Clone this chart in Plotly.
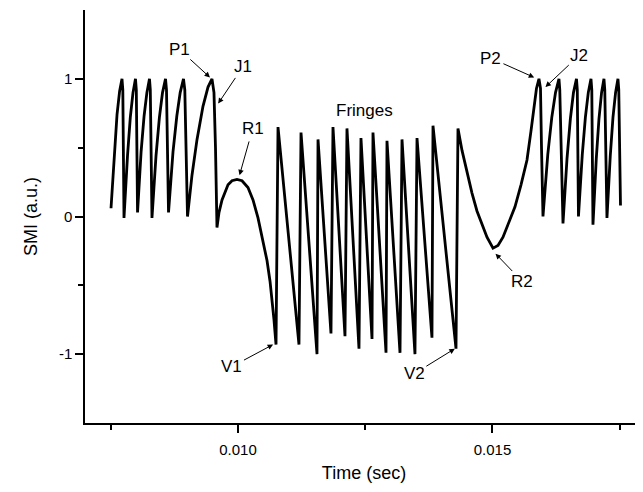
import plotly.graph_objects as go

# Time (s) and SMI (a.u.) values
time_left = [0.007505, 0.007570, 0.007623, 0.007674, 0.007721, 0.007737, 0.007760,
             0.007829, 0.007884, 0.007937, 0.007986, 0.008002, 0.008026,
             0.008096, 0.008155, 0.008210, 0.008261, 0.008277, 0.008310,
             0.008389, 0.008456, 0.008517, 0.008576, 0.008595, 0.008635,
             0.008723, 0.008798, 0.008864, 0.008929, 0.008955, 0.009008,
             0.009096, 0.009195, 0.009312, 0.009411, 0.009489, 0.009528, 0.009558, 0.009587]
smi_left = [0.06, 0.48, 0.74, 0.91, 1.00, 0.92, -0.01,
            0.44, 0.72, 0.90, 1.00, 0.92, 0.03,
            0.47, 0.73, 0.90, 1.00, 0.92, -0.01,
            0.44, 0.72, 0.90, 1.00, 0.92, 0.03,
            0.47, 0.73, 0.90, 1.00, 0.92, 0.00,
            0.30, 0.56, 0.80, 0.94, 1.00, 0.90, 0.50, -0.08]

time_r1 = [0.009627, 0.009686, 0.009804, 0.009882, 0.009980, 0.010079, 0.010196,
           0.010295, 0.010393, 0.010491, 0.010570, 0.010629, 0.010668, 0.010707, 0.010747]
smi_r1 = [0.03, 0.12, 0.23, 0.26, 0.27, 0.26, 0.21,
          0.12, -0.01, -0.18, -0.32, -0.47, -0.59, -0.75, -0.93]

time_fringes = [0.010786, 0.011198, 0.011238, 0.011552, 0.011572, 0.011827, 0.011866,
                0.012102, 0.012141, 0.012377, 0.012416, 0.012633, 0.012652, 0.012908,
                0.012927, 0.013183, 0.013222, 0.013477, 0.013517, 0.013811, 0.013831,
                0.014283, 0.014322]
smi_fringes = [0.65, -0.93, 0.61, -1.00, 0.56, -0.85, 0.65,
               -0.87, 0.64, -0.96, 0.57, -0.89, 0.61, -0.99,
               0.55, -0.99, 0.56, -1.00, 0.57, -0.88, 0.66,
               -0.96, 0.64]

time_r2 = [0.014401, 0.014499, 0.014597, 0.014695, 0.014794, 0.014892, 0.015010,
           0.015108, 0.015206, 0.015324, 0.015442, 0.015560, 0.015678, 0.015756,
           0.015815, 0.015864, 0.015913, 0.015943, 0.015963, 0.015992]
smi_r2 = [0.48, 0.32, 0.17, 0.04, -0.05, -0.15, -0.23,
          -0.21, -0.15, -0.04, 0.07, 0.23, 0.41, 0.62,
          0.80, 0.93, 1.00, 0.93, 0.50, 0.00]

time_right = [0.016086, 0.016165, 0.016238, 0.016306, 0.016322, 0.016385,
              0.016464, 0.016530, 0.016591, 0.016650, 0.016666, 0.016689,
              0.016764, 0.016825, 0.016882, 0.016935, 0.016951, 0.016974,
              0.017039, 0.017092, 0.017143, 0.017190, 0.017206, 0.017249,
              0.017314, 0.017367, 0.017418, 0.017465, 0.017481, 0.017515]
smi_right = [0.45, 0.72, 0.90, 1.00, 0.92, -0.05,
             0.42, 0.71, 0.90, 1.00, 0.92, 0.00,
             0.45, 0.72, 0.90, 1.00, 0.92, -0.06,
             0.42, 0.71, 0.90, 1.00, 0.92, -0.01,
             0.44, 0.72, 0.90, 1.00, 0.92, 0.08]

time_all = time_left + time_r1 + time_fringes + time_r2 + time_right
smi_all = smi_left + smi_r1 + smi_fringes + smi_r2 + smi_right

# annotation labels: (text, label time, label smi, arrow-tip time, arrow-tip smi)
labels = ["P1", "J1", "R1", "V1", "V2", "R2", "P2", "J2"]
label_t = [0.00886, 0.01010, 0.01029, 0.00988, 0.01347, 0.01558, 0.01497, 0.01670]
label_v = [1.21, 1.09, 0.64, -1.09, -1.14, -0.47, 1.15, 1.17]
tip_t = [0.00945, 0.00961, 0.01003, 0.01069, 0.01426, 0.01506, 0.01582, 0.01604]
tip_v = [1.01, 0.82, 0.30, -0.93, -0.96, -0.27, 1.01, 0.94]

FONT = "Liberation Sans, Arial, sans-serif"

fig = go.Figure()
fig.add_trace(go.Scatter(x=time_all, y=smi_all, mode="lines",
                         line=dict(color="black", width=2.8), hoverinfo="skip"))

annotations = []
for txt, lt, lv, tt, tv in zip(labels, label_t, label_v, tip_t, tip_v):
    annotations.append(dict(x=tt, y=tv, ax=lt, ay=lv, axref="x", ayref="y",
                            xref="x", yref="y", text="", showarrow=True,
                            arrowhead=2, arrowsize=1.1, arrowwidth=1, arrowcolor="black",
                            standoff=0, startstandoff=12))
    annotations.append(dict(x=lt, y=lv, xref="x", yref="y", text=txt, showarrow=False,
                            font=dict(family=FONT, size=17, color="black")))
annotations.append(dict(x=0.01248, y=0.77, xref="x", yref="y", text="Fringes",
                        showarrow=False, font=dict(family=FONT, size=17, color="black")))

# the page body adds an 8px margin, so the figure is sized to fit inside the window
fig.update_layout(
    width=635, height=484,
    margin=dict(l=77, r=0, t=2, b=69),
    paper_bgcolor="white", plot_bgcolor="white",
    showlegend=False,
    annotations=annotations,
    font=dict(family=FONT, size=15, color="black"),
    xaxis=dict(range=[0.006994, 0.017957], showgrid=False, zeroline=False,
               showline=True, linecolor="black", linewidth=1.5,
               ticks="outside", ticklen=8, tickwidth=1.5, tickcolor="black",
               tickvals=[0.010, 0.015], ticktext=["0.010", "0.015"],
               ticklabelstandoff=4,
               minor=dict(tickvals=[0.0075, 0.0125, 0.0175], ticks="outside",
                          ticklen=5, tickwidth=1.5, tickcolor="black"),
               title=dict(text="Time (sec)", font=dict(family=FONT, size=18), standoff=10),
               tickfont=dict(family=FONT, size=15)),
    yaxis=dict(range=[-1.5, 1.5], showgrid=False, zeroline=False,
               showline=True, linecolor="black", linewidth=1.5,
               ticks="outside", ticklen=8, tickwidth=1.5, tickcolor="black",
               tickvals=[-1, 0, 1], ticktext=["-1", "0", "1"],
               minor=dict(tickvals=[-0.5, 0.5], ticks="outside",
                          ticklen=5, tickwidth=1.5, tickcolor="black"),
               title=dict(text="SMI (a.u.)", font=dict(family=FONT, size=18), standoff=17),
               tickfont=dict(family=FONT, size=15)),
)

fig.write_html("out.html")
